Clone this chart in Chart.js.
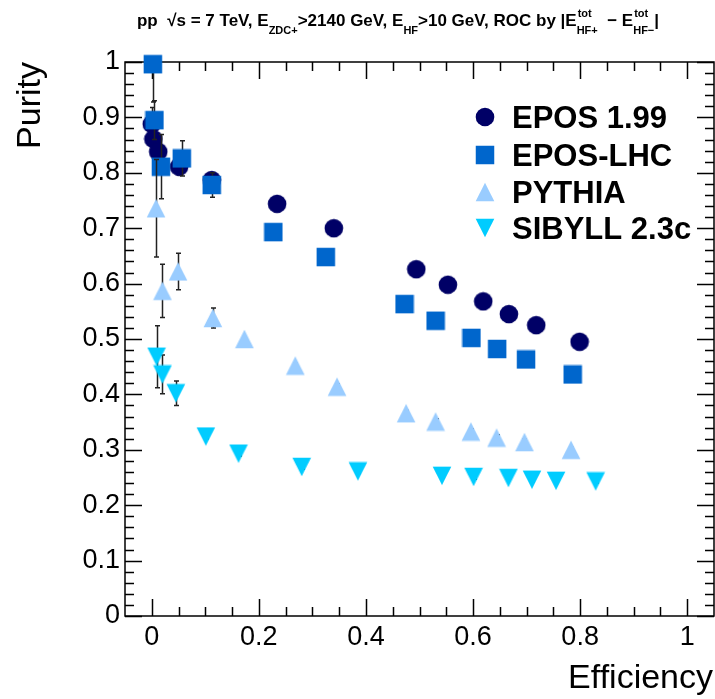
<!DOCTYPE html>
<html>
<head>
<meta charset="utf-8">
<script src="https://cdn.jsdelivr.net/npm/chart.js@4.4.1/dist/chart.umd.min.js"></script>
<style>
  html, body { margin: 0; padding: 0; background: #fff; }
  canvas { display: block; }
</style>
</head>
<body>
<canvas id="roc" width="715" height="699"></canvas>
<script>
// ---- data ----
const seriesLabels = ['EPOS 1.99', 'EPOS-LHC', 'PYTHIA', 'SIBYLL 2.3c'];

const epos199Eff = [0.000, 0.003, 0.012, 0.051, 0.112, 0.234, 0.340, 0.494, 0.553, 0.619, 0.667, 0.718, 0.799];
const epos199Pur = [0.888, 0.861, 0.838, 0.811, 0.787, 0.744, 0.700, 0.626, 0.598, 0.568, 0.545, 0.525, 0.495];
const epos199Err = [0.030, 0.030, 0.030, 0.015, 0.012, 0.004, 0.004, 0.003, 0.003, 0.003, 0.003, 0.003, 0.003];

const eposLhcEff = [0.002, 0.005, 0.017, 0.056, 0.112, 0.227, 0.325, 0.472, 0.530, 0.597, 0.645, 0.699, 0.786];
const eposLhcPur = [0.996, 0.895, 0.811, 0.826, 0.778, 0.693, 0.648, 0.563, 0.533, 0.502, 0.482, 0.463, 0.436];
const eposLhcErr = [0.068, 0.035, 0.058, 0.032, 0.022, 0.004, 0.004, 0.003, 0.003, 0.003, 0.003, 0.003, 0.003];

const pythiaEff = [0.008, 0.020, 0.049, 0.114, 0.173, 0.268, 0.346, 0.475, 0.530, 0.596, 0.644, 0.696, 0.783];
const pythiaPur = [0.736, 0.587, 0.622, 0.538, 0.500, 0.452, 0.414, 0.366, 0.351, 0.333, 0.322, 0.314, 0.300];
const pythiaErr = [0.088, 0.048, 0.033, 0.018, 0.004, 0.004, 0.005, 0.005, 0.005, 0.005, 0.005, 0.005, 0.004];

const sibyllEff = [0.009, 0.020, 0.045, 0.101, 0.162, 0.280, 0.385, 0.542, 0.601, 0.666, 0.710, 0.755, 0.829];
const sibyllPur = [0.468, 0.436, 0.402, 0.324, 0.293, 0.269, 0.261, 0.253, 0.251, 0.249, 0.246, 0.244, 0.243];
const sibyllErr = [0.056, 0.035, 0.022, 0.004, 0.004, 0.004, 0.004, 0.004, 0.004, 0.004, 0.004, 0.003, 0.003];

const xTickValues = [0, 0.2, 0.4, 0.6, 0.8, 1];
const yTickValues = [0, 0.1, 0.2, 0.3, 0.4, 0.5, 0.6, 0.7, 0.8, 0.9, 1];

const FONT = '"Liberation Sans", Arial, Helvetica, sans-serif';

// ROOT-like markers as small canvases
function makeMarker(shape, color) {
    const c = document.createElement('canvas');
    c.width = 20; c.height = 20;
    const g = c.getContext('2d');
    g.fillStyle = color;
    g.beginPath();
    if (shape === 'circle') {
        g.arc(10, 10, 9.3, 0, 2 * Math.PI);
    } else if (shape === 'square') {
        g.rect(0.75, 0.75, 18.5, 18.5);
    } else if (shape === 'up') {
        g.moveTo(10, 0.8); g.lineTo(19.3, 19.2); g.lineTo(0.7, 19.2);
    } else {
        g.moveTo(0.7, 0.8); g.lineTo(19.3, 0.8); g.lineTo(10, 19.2);
    }
    g.closePath();
    g.fill();
    return c;
}

const markers = [
    makeMarker('circle', '#000066'),
    makeMarker('square', '#0066cc'),
    makeMarker('up', '#99ccff'),
    makeMarker('down', '#00ccff')
];

function pts(xs, ys) {
    return xs.map((x, i) => ({ x: x, y: ys[i] }));
}

const errors = [epos199Err, eposLhcErr, pythiaErr, sibyllErr];

const datasets = [
    { label: seriesLabels[0], data: pts(epos199Eff, epos199Pur), order: 4 },
    { label: seriesLabels[1], data: pts(eposLhcEff, eposLhcPur), order: 3 },
    { label: seriesLabels[2], data: pts(pythiaEff, pythiaPur), order: 2 },
    { label: seriesLabels[3], data: pts(sibyllEff, sibyllPur), order: 1 }
].map((d, i) => Object.assign(d, {
    pointStyle: markers[i],
    pointRadius: 9,
    pointHoverRadius: 9,
    showLine: false,
    clip: false
}));

// frame + inward ticks on all four sides, drawn under the markers
const framePlugin = {
    id: 'rootFrame',
    beforeDatasetsDraw(chart) {
        const { ctx, chartArea: a, scales } = chart;
        const xs = scales.x, ys = scales.y;
        ctx.save();
        ctx.strokeStyle = '#000';
        ctx.lineWidth = 1.5;
        ctx.strokeRect(a.left, a.top, a.right - a.left, a.bottom - a.top);
        ctx.beginPath();
        for (let k = 0; k <= 20; k++) {
            const v = k * 0.05;
            const len = (k % 4 === 0) ? 17 : 9;
            const px = Math.round(xs.getPixelForValue(v)) + 0.5;
            ctx.moveTo(px, a.bottom); ctx.lineTo(px, a.bottom - len);
            ctx.moveTo(px, a.top); ctx.lineTo(px, a.top + len);
        }
        for (let k = 0; k <= 50; k++) {
            const v = k * 0.02;
            const len = (k % 5 === 0) ? 17 : 9;
            const py = Math.round(ys.getPixelForValue(v)) + 0.5;
            ctx.moveTo(a.left, py); ctx.lineTo(a.left + len, py);
            ctx.moveTo(a.right, py); ctx.lineTo(a.right - len, py);
        }
        ctx.stroke();
        ctx.restore();
    }
};

// vertical error bars, drawn just before each dataset's markers
const errorBarPlugin = {
    id: 'errorBars',
    beforeDatasetDraw(chart, args) {
        const { ctx, chartArea: a } = chart;
        const ys = chart.scales.y;
        const err = errors[args.index];
        const data = chart.data.datasets[args.index].data;
        ctx.save();
        ctx.beginPath();
        ctx.rect(a.left, a.top, a.right - a.left, a.bottom - a.top);
        ctx.clip();
        ctx.strokeStyle = '#222';
        ctx.lineWidth = 1.5;
        ctx.beginPath();
        args.meta.data.forEach((el, i) => {
            const e = err[i];
            if (!e) return;
            const x = Math.round(el.x) + 0.5;
            const yHi = ys.getPixelForValue(data[i].y + e);
            const yLo = ys.getPixelForValue(data[i].y - e);
            ctx.moveTo(x, yHi); ctx.lineTo(x, yLo);
            ctx.moveTo(x - 2.5, yHi); ctx.lineTo(x + 2.5, yHi);
            ctx.moveTo(x - 2.5, yLo); ctx.lineTo(x + 2.5, yLo);
        });
        ctx.stroke();
        ctx.restore();
    }
};

// title with sub/superscripts, axis titles and legend box
function drawRich(ctx, parts, cx, base) {
    const big = 'bold 17px ' + FONT, small = 'bold 11px ' + FONT;
    const widthOf = p => {
        if (p[0] === 't') { ctx.font = big; return ctx.measureText(p[1]).width; }
        ctx.font = small;
        if (p[0] === 'sub') return ctx.measureText(p[1]).width;
        return Math.max(ctx.measureText(p[1]).width, ctx.measureText(p[2]).width);
    };
    const total = parts.reduce((s, p) => s + widthOf(p), 0);
    let x = cx - total / 2;
    ctx.fillStyle = '#000';
    ctx.textAlign = 'left';
    ctx.textBaseline = 'alphabetic';
    parts.forEach(p => {
        const w = widthOf(p);
        if (p[0] === 't') {
            ctx.font = big; ctx.fillText(p[1], x, base);
        } else if (p[0] === 'sub') {
            ctx.font = small; ctx.fillText(p[1], x, base + 8);
        } else {
            ctx.font = small;
            ctx.fillText(p[1], x + 1, base - 9);
            ctx.fillText(p[2], x, base + 8);
        }
        x += w;
    });
}

const titleParts = [
    ['t', 'pp  √s = 7 TeV, E'], ['sub', 'ZDC+'], ['t', '>2140 GeV, E'], ['sub', 'HF'],
    ['t', '>10 GeV, ROC by |E'], ['ss', 'tot', 'HF+'], ['t', '  − E'], ['ss', 'tot', 'HF−'], ['t', '|']
];

const annotationsPlugin = {
    id: 'rootText',
    afterDraw(chart) {
        const { ctx, chartArea: a } = chart;
        ctx.save();
        drawRich(ctx, titleParts, 398, 26);

        // axis titles, ROOT style (right / top aligned)
        ctx.fillStyle = '#000';
        ctx.font = '34px ' + FONT;
        ctx.textAlign = 'right';
        ctx.textBaseline = 'alphabetic';
        ctx.fillText('Efficiency', 713, 688);
        ctx.save();
        ctx.translate(40, a.top);
        ctx.rotate(-Math.PI / 2);
        ctx.fillText('Purity', 0, 0);
        ctx.restore();

        // legend
        const rows = [117, 155, 192, 228];
        ctx.font = 'bold 31px ' + FONT;
        ctx.textAlign = 'left';
        rows.forEach((ry, i) => {
            const m = markers[i];
            ctx.drawImage(m, 485 - m.width / 2, ry - m.height / 2);
            ctx.fillText(seriesLabels[i], 512, ry + 11);
        });
        ctx.restore();
    }
};

new Chart(document.getElementById('roc'), {
    type: 'scatter',
    data: { datasets: datasets },
    options: {
        responsive: false,
        devicePixelRatio: 1,
        animation: false,
        events: [],
        layout: { autoPadding: false, padding: { top: 62, right: 1, left: 0, bottom: 0 } },
        plugins: { legend: { display: false }, tooltip: { enabled: false } },
        scales: {
            x: {
                type: 'linear',
                min: -0.05,
                max: 1.05,
                afterBuildTicks: s => { s.ticks = xTickValues.map(v => ({ value: v })); },
                afterFit: s => { s.height = 83; s.paddingLeft = 0; s.paddingRight = 0; },
                grid: { display: false, drawTicks: false },
                border: { display: false },
                ticks: {
                    padding: 5,
                    color: '#000',
                    maxRotation: 0,
                    font: { family: FONT, size: 27 },
                    callback: v => String(Math.round(v * 10) / 10)
                }
            },
            y: {
                type: 'linear',
                min: 0,
                max: 1,
                afterBuildTicks: s => { s.ticks = yTickValues.map(v => ({ value: v })); },
                afterFit: s => { s.width = 125; s.paddingTop = 0; s.paddingBottom = 0; },
                grid: { display: false, drawTicks: false },
                border: { display: false },
                ticks: {
                    padding: 5,
                    color: '#000',
                    font: { family: FONT, size: 27 },
                    callback: v => String(Math.round(v * 10) / 10)
                }
            }
        }
    },
    plugins: [framePlugin, errorBarPlugin, annotationsPlugin]
});
</script>
</body>
</html>
